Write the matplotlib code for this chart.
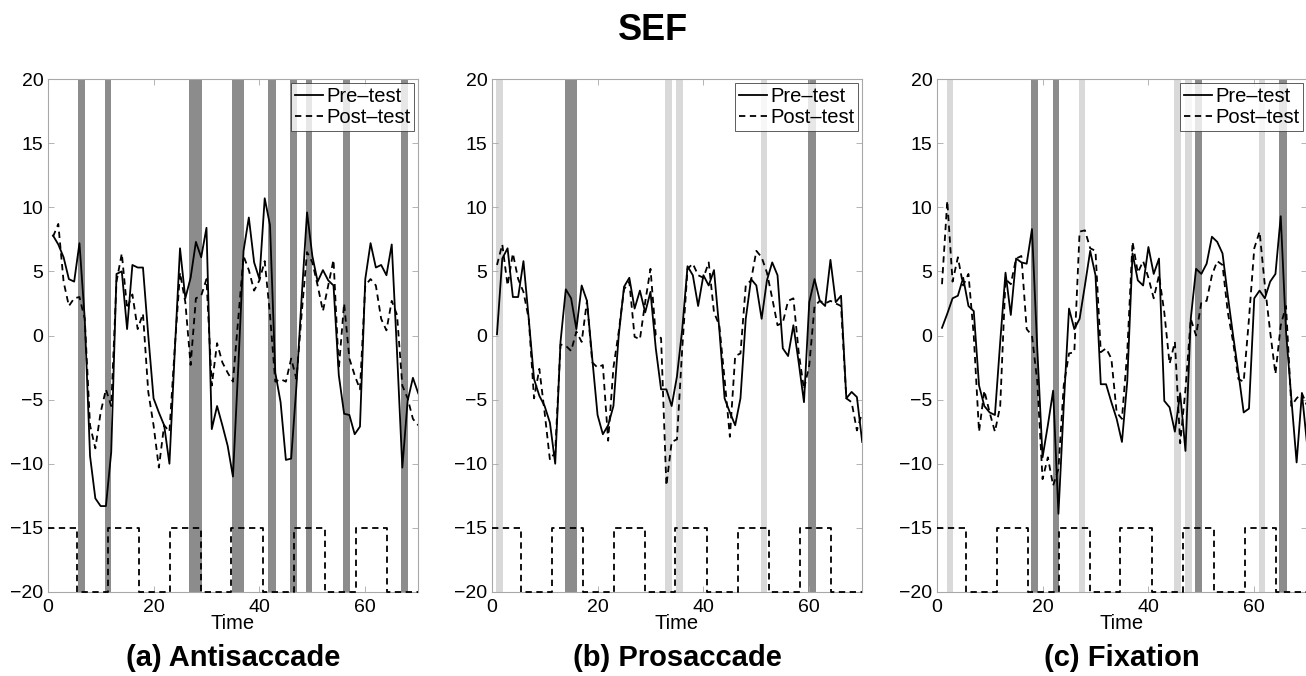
import numpy as np
import matplotlib.pyplot as plt

plt.rcParams['font.family'] = ['Liberation Sans', 'DejaVu Sans']

# tiempo (volúmenes) y series
time = np.arange(1, 71)

anti_pre = [7.8, 7.1, 6.1, 4.4, 4.2, 7.2, 1.3, -9.4, -12.7, -13.3,
            -13.3, -9.1, 4.8, 5.0, 0.5, 5.5, 5.3, 5.3, 0.0, -4.9,
            -6.0, -7.0, -10.0, -1.3, 6.8, 2.9, 4.5, 7.3, 6.1, 8.4,
            -7.3, -5.5, -7.0, -8.6, -11.0, -2.5, 6.6, 9.2, 5.7, 4.4,
            10.7, 8.6, -2.9, -5.2, -9.7, -9.6, -3.9, 3.1, 9.6, 6.2,
            4.2, 5.1, 4.3, 3.9, -3.1, -6.1, -6.2, -7.7, -7.1, 4.4,
            7.2, 5.3, 5.5, 4.7, 7.1, -1.3, -10.3, -5.1, -3.3, -4.5]
anti_post = [7.7, 8.7, 4.2, 2.3, 2.9, 3.0, 1.3, -7.0, -8.8, -6.0,
             -4.2, -5.5, 4.2, 6.4, 2.1, 3.2, 0.5, 1.7, -4.4, -7.0,
             -10.3, -7.0, -7.5, -1.0, 4.9, 2.6, -2.3, 2.9, 3.1, 4.4,
             -3.9, -0.6, -2.1, -2.9, -3.6, 1.3, 6.2, 5.1, 3.5, 4.3,
             5.8, 1.6, -3.6, -3.4, -3.6, -1.8, -3.4, 1.8, 6.5, 5.7,
             3.9, 1.9, 3.9, 5.9, -2.6, 2.5, -1.8, -3.1, -4.2, 3.9,
             4.4, 3.9, 1.3, 0.4, 2.7, 1.6, -3.9, -4.9, -6.5, -7.0]

pro_pre = [0.1, 6.0, 6.8, 3.0, 3.0, 5.8, 1.3, -3.4, -4.7, -5.5,
           -6.8, -10.0, -0.5, 3.6, 2.9, 0.5, 3.9, 2.7, -1.8, -6.2,
           -7.7, -7.0, -5.5, 0.0, 3.8, 4.5, 2.1, 3.5, 1.8, 3.4,
           -1.0, -4.2, -4.2, -5.5, -3.2, 0.5, 5.4, 4.7, 2.3, 4.7,
           3.9, 5.1, 0.5, -4.9, -6.0, -7.0, -4.9, 1.3, 4.4, 3.9,
           1.3, 4.3, 5.7, 4.7, -1.0, -1.6, 0.8, -2.1, -5.2, 2.6,
           4.4, 2.7, 2.3, 5.9, 2.6, 3.1, -4.9, -4.4, -4.8, -8.3]
pro_post = [5.5, 7.1, 3.9, 6.4, 4.4, 3.4, 1.3, -4.9, -2.6, -6.0,
            -9.7, -9.1, -0.7, -0.8, -1.2, 0.3, -0.5, 2.7, -2.1, -2.5,
            -2.3, -8.2, -2.5, 0.3, 3.6, 4.2, -0.1, -0.3, 2.6, 5.2,
            0.0, -0.2, -11.7, -8.3, -8.1, -1.0, 5.2, 5.6, 4.7, 4.5,
            5.7, 1.8, 0.8, -3.4, -7.9, -1.6, -1.4, 3.9, 4.3, 6.6,
            6.1, 4.9, 2.9, 0.8, 1.0, 2.7, 2.9, -1.3, -4.2, -2.3,
            2.3, 2.7, 2.5, 2.7, 2.5, 2.3, -4.9, -5.2, -7.4, -6.0]

fix_pre = [0.6, 1.7, 2.9, 3.1, 4.5, 2.3, 1.9, -3.9, -5.5, -6.0,
           -6.2, -0.5, 4.9, 1.6, 6.0, 5.7, 5.6, 8.3, -1.0, -9.5,
           -7.0, -4.3, -13.9, -5.5, 2.1, 0.5, 1.3, 3.9, 6.6, 4.7,
           -3.8, -3.8, -5.2, -6.5, -8.3, -3.6, 6.4, 4.3, 3.9, 6.9,
           4.8, 6.0, -5.1, -5.6, -7.5, -4.5, -9.0, 1.3, 5.2, 4.8,
           5.6, 7.7, 7.3, 6.4, 3.1, 0.0, -2.9, -6.0, -5.7, 2.9,
           3.5, 2.9, 4.2, 4.8, 9.3, 0.3, -4.9, -9.9, -4.5, -8.6]
fix_post = [4.0, 10.5, 4.2, 6.1, 3.9, 4.8, 0.0, -7.5, -4.3, -6.0,
            -7.5, -5.5, 4.4, 4.0, 6.0, 6.2, 0.5, 0.0, -3.6, -11.2,
            -9.5, -11.7, -10.4, -3.9, -1.4, -1.3, 8.1, 8.2, 6.8, 6.6,
            -1.3, -1.0, -1.8, -6.0, -6.5, -1.3, 7.3, 4.9, 5.8, 4.5,
            2.9, 4.7, 1.8, -2.2, -0.5, -8.4, -4.2, 1.3, 0.0, 2.6,
            2.7, 4.7, 5.8, 5.5, 1.8, -0.5, -3.4, -3.6, 1.3, 6.8,
            8.1, 3.9, 0.3, -3.0, 0.8, 2.3, -5.5, -4.9, -4.5, -5.5]

# diseño de bloques (tarea / reposo)
block_edges = [5.6, 11.3, 17.2, 23.1, 28.9, 34.7, 40.7, 46.5, 52.4, 58.2, 64.1]
block_high, block_low = -15, -20

# intervalos significativos (inicio, fin)
anti_dark = [(5.8, 7.0), (10.8, 12.0), (26.7, 29.1), (34.9, 37.1), (41.7, 43.1),
             (45.8, 47.1), (48.8, 50.0), (55.8, 57.1), (66.8, 68.1)]
anti_light = []
pro_dark = [(13.8, 16.2), (59.8, 61.2)]
pro_light = [(0.9, 2.2), (32.8, 34.1), (34.8, 36.1), (50.8, 52.0)]
fix_dark = [(17.8, 19.2), (21.9, 23.1), (48.8, 50.1), (64.7, 66.1)]
fix_light = [(1.9, 3.1), (26.9, 28.1), (44.8, 46.1), (47.0, 48.3), (60.8, 62.1)]

panels = [
    ('(a) Antisaccade', anti_pre, anti_post, anti_dark, anti_light),
    ('(b) Prosaccade', pro_pre, pro_post, pro_dark, pro_light),
    ('(c) Fixation', fix_pre, fix_post, fix_dark, fix_light),
]

W, H = 1306, 676
fig = plt.figure(figsize=(W / 100, H / 100), dpi=100)
lefts = [47.7, 491.7, 936.7]
aw, bottom, ah = 370.5, 84, 513

# señal de bloques
bx = [0] + block_edges + [70]
by = [block_high if i % 2 == 0 else block_low for i in range(len(bx) - 1)]
by = by + [by[-1]]

for left, (name, pre, post, dark, light) in zip(lefts, panels):
    ax = fig.add_axes([left / W, bottom / H, aw / W, ah / H])
    for a, b in light:
        ax.axvspan(a, b, color='#d9d9d9', lw=0, zorder=1)
    for a, b in dark:
        ax.axvspan(a, b, color='#8c8c8c', lw=0, zorder=1)
    ax.plot(time, pre, color='black', lw=1.3, label='Pre–test', zorder=3)
    ax.plot(time, post, color='black', lw=1.3, ls=(0, (3.5, 2.5)),
            label='Post–test', zorder=3)
    ax.plot(bx, by, color='black', lw=1.3, ls=(0, (3.5, 2.5)),
            drawstyle='steps-post', zorder=3, clip_on=False)

    ax.set_xlim(0, 70)
    ax.set_ylim(-20, 20)
    ax.set_xticks([0, 20, 40, 60])
    ax.set_yticks(np.arange(-20, 21, 5))
    ax.tick_params(direction='in', length=4, width=0.6, color='#a8a8a8',
                   top=True, right=True, labelsize=14, pad=3.2)
    ax.tick_params(axis='x', pad=5)
    for s in ax.spines.values():
        s.set_color('#a8a8a8')
        s.set_linewidth(0.8)
    ax.set_xlabel('Time', fontsize=14.5, labelpad=-1.5)

    leg = ax.legend(loc='upper right', fontsize=14.5, frameon=True, fancybox=False,
                    borderaxespad=0.2, borderpad=0.2, handlelength=1.4,
                    handletextpad=0.15, labelspacing=0.1)
    leg.get_frame().set_edgecolor('#333333')
    leg.get_frame().set_linewidth(0.7)
    leg.set_zorder(5)

    fig.text((left + aw / 2) / W, 1 - 658 / H, name, ha='center', va='center',
             fontsize=21, fontweight='bold')

fig.text(653 / W, 1 - 30 / H, 'SEF', ha='center', va='center',
         fontsize=26, fontweight='bold')

fig.savefig('out.png', dpi=100)
